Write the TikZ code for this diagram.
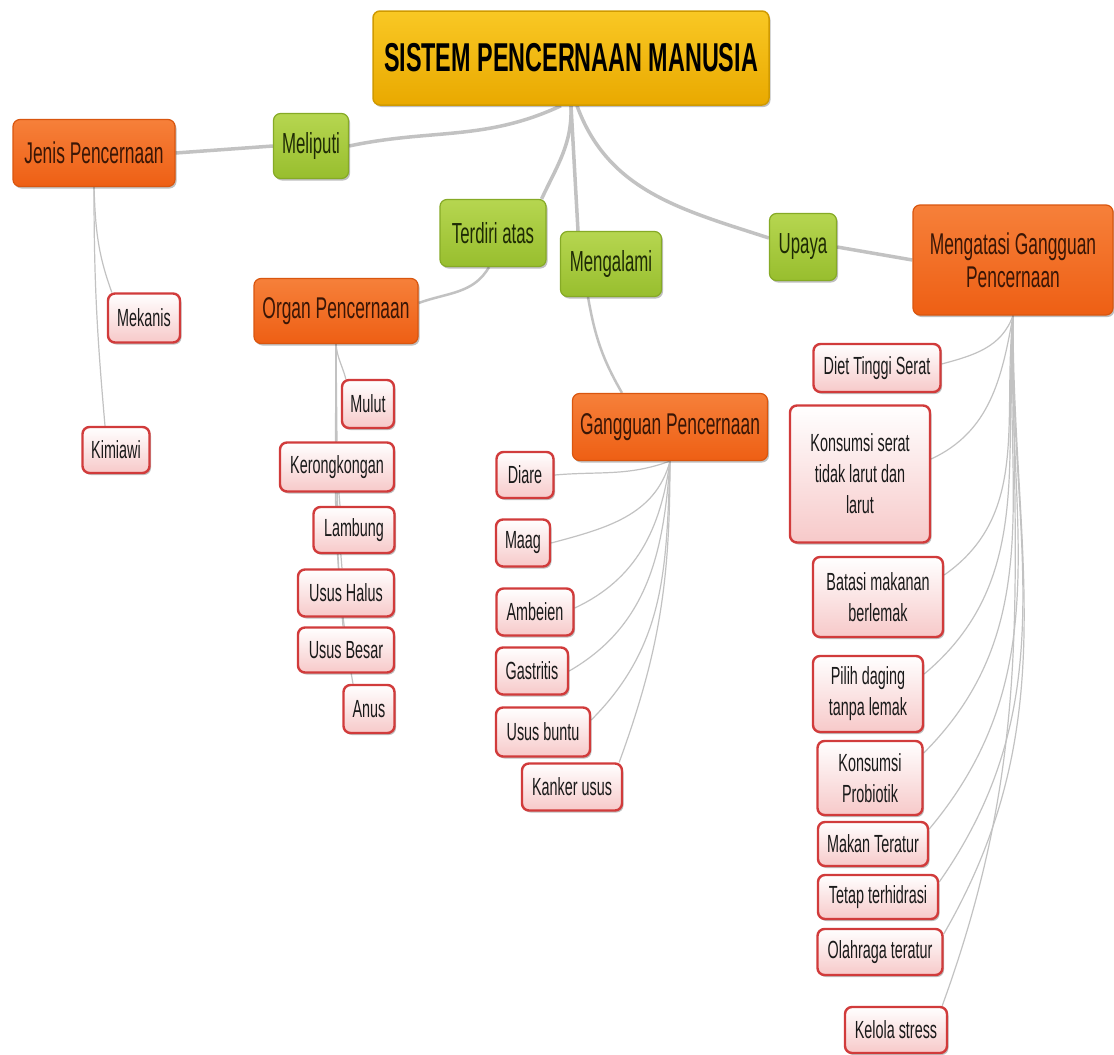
\documentclass[tikz,border=0pt]{standalone}
\usepackage{fontspec}
\setmainfont{Liberation Sans}[FakeStretch=0.58]
\usetikzlibrary{backgrounds,shadows}
\definecolor{rootTop}{HTML}{F9C824}
\definecolor{rootBot}{HTML}{E9A900}
\definecolor{rootLine}{HTML}{D09A00}
\definecolor{topicTop}{HTML}{F6803A}
\definecolor{topicBot}{HTML}{EE5F14}
\definecolor{topicLine}{HTML}{D9560F}
\definecolor{topicText}{HTML}{3A1606}
\definecolor{linkTop}{HTML}{B6D650}
\definecolor{linkBot}{HTML}{98BE2E}
\definecolor{linkLine}{HTML}{86AA26}
\definecolor{linkText}{HTML}{1E2A05}
\definecolor{leafBot}{HTML}{F7C9C9}
\definecolor{leafLine}{HTML}{D13B3B}
\definecolor{leafText}{HTML}{1A1A1A}
\definecolor{wire}{HTML}{C2C2C2}
\tikzset{
  box/.style={rounded corners=7pt, align=center, inner sep=2pt,
    drop shadow={shadow xshift=1.5pt, shadow yshift=-2pt, opacity=.25, fill=black}},
  root/.style={box, draw=rootLine, line width=1.5pt, top color=rootTop, bottom color=rootBot,
    text=black, font=\fontsize{40.3}{45}\selectfont\bfseries},
  topic/.style={box, draw=topicLine, line width=1.2pt, top color=topicTop, bottom color=topicBot,
    text=topicText, font=\fontsize{30}{33}\selectfont},
  link/.style={box, draw=linkLine, line width=1.2pt, top color=linkTop, bottom color=linkBot,
    text=linkText, font=\fontsize{29}{32}\selectfont},
  leaf/.style={box, draw=leafLine, line width=2.4pt, top color=white, bottom color=leafBot,
    text=leafText, font=\fontsize{24.8}{31}\selectfont},
  trunk/.style={draw=wire, line width=3.5pt},
  branch/.style={draw=wire, line width=2.5pt},
  twig/.style={draw=wire, line width=1.2pt},
}
\begin{document}
\begin{tikzpicture}[x=1pt, y=-1pt]
\useasboundingbox (0,0) rectangle (1114,1055);

\node[root, minimum width=396, minimum height=94] (root) at (571,58) {SISTEM PENCERNAAN MANUSIA};

\node[topic, minimum width=162, minimum height=67] (jenis) at (94,153) {Jenis Pencernaan};
\node[topic, minimum width=164, minimum height=65] (organ) at (336,311) {Organ Pencernaan};
\node[topic, minimum width=195, minimum height=67] (gang) at (670,427) {Gangguan Pencernaan};
\node[topic, minimum width=200, minimum height=110] (atasi) at (1013,260) {Mengatasi Gangguan\\Pencernaan};

\node[link, minimum width=75, minimum height=65] (meli) at (311,146) {Meliputi};
\node[link, minimum width=106, minimum height=67] (terdiri) at (493,233) {Terdiri atas};
\node[link, minimum width=101, minimum height=65] (meng) at (611,264) {Mengalami};
\node[link, minimum width=67, minimum height=67] (upaya) at (803,247) {Upaya};

\node[leaf, minimum width=72, minimum height=49] (mekanis) at (144,318) {Mekanis};
\node[leaf, minimum width=67, minimum height=46] (kimia) at (116,450) {Kimiawi};

\node[leaf, minimum width=52, minimum height=48] (mulut) at (368,404) {Mulut};
\node[leaf, minimum width=114, minimum height=49] (kerong) at (337,467) {Kerongkongan};
\node[leaf, minimum width=81, minimum height=46] (lambung) at (354,530) {Lambung};
\node[leaf, minimum width=96, minimum height=47] (halus) at (346,593) {Usus Halus};
\node[leaf, minimum width=96, minimum height=45] (besar) at (346,650) {Usus Besar};
\node[leaf, minimum width=51, minimum height=48] (anus) at (369,709) {Anus};

\node[leaf, minimum width=57, minimum height=46] (diare) at (525,475) {Diare};
\node[leaf, minimum width=54, minimum height=47] (maag) at (523,543) {Maag};
\node[leaf, minimum width=77, minimum height=47] (ambeien) at (535,612) {Ambeien};
\node[leaf, minimum width=72, minimum height=47] (gastritis) at (532,671) {Gastritis};
\node[leaf, minimum width=94, minimum height=49] (buntu) at (543,732) {Usus buntu};
\node[leaf, minimum width=100, minimum height=47] (kanker) at (572,787) {Kanker usus};

\node[leaf, minimum width=127, minimum height=48] (diet) at (877,368) {Diet Tinggi Serat};
\node[leaf, minimum width=140, minimum height=137] (serat) at (860,474) {Konsumsi serat\\tidak larut dan\\larut};
\node[leaf, minimum width=130, minimum height=80] (batasi) at (878,597) {Batasi makanan\\berlemak};
\node[leaf, minimum width=110, minimum height=76] (pilih) at (868,694) {Pilih daging\\tanpa lemak};
\node[leaf, minimum width=105, minimum height=74] (probio) at (870,778) {Konsumsi\\Probiotik};
\node[leaf, minimum width=110, minimum height=44] (makan) at (873,844) {Makan Teratur};
\node[leaf, minimum width=120, minimum height=44] (tetap) at (878,897) {Tetap terhidrasi};
\node[leaf, minimum width=125, minimum height=46] (olah) at (880,952) {Olahraga teratur};
\node[leaf, minimum width=102, minimum height=46] (kelola) at (896,1030) {Kelola stress};

\begin{scope}[on background layer]
\fill[white] (0,0) rectangle (1114,1055);
\draw[trunk] ([xshift=-10pt]root.south) to[out=205, in=12] (meli.east);
\draw[trunk] (root.south) to[out=-88, in=65] ([xshift=-5pt]terdiri.north east);
\draw[trunk] (root.south) -- ([xshift=-33pt]meng.north);
\draw[trunk] ([xshift=6pt]root.south) to[out=-70, in=162] ([yshift=9pt]upaya.west);
\draw[trunk] (upaya.east) -- (atasi.west);
\draw[trunk] (meli.west) -- (jenis.east);
\draw[branch] ([xshift=-4pt]terdiri.south) to[out=-120, in=20] ([yshift=8pt]organ.east);
\draw[branch] ([xshift=-23pt]meng.south) to[out=-80, in=120] ([xshift=-48pt]gang.north);

\draw[twig] (jenis.south) to[out=-88, in=110] ([xshift=5pt]mekanis.north west);
\draw[twig] (jenis.south) to[out=-90, in=95] ([xshift=-11pt]kimia.north);

\draw[twig] (organ.south) to[out=-85, in=105] ([xshift=5pt]mulut.north west);
\draw[twig] (organ.south) -- (kerong.north);
\draw[twig] (organ.south) to[out=-90, in=95] ([xshift=-14pt]lambung.north);
\draw[twig] (organ.south) to[out=-90, in=95] ([xshift=-4pt]halus.north);
\draw[twig] (organ.south) to[out=-90, in=95] ([xshift=-3pt]besar.north);
\draw[twig] (organ.south) to[out=-90, in=100] ([xshift=-16pt]anus.north);

\draw[twig] (gang.south) to[out=200, in=5] (diare.east);
\draw[twig] (gang.south) to[out=-105, in=15] (maag.east);
\draw[twig] (gang.south) to[out=-98, in=25] ([yshift=4pt]ambeien.east);
\draw[twig] (gang.south) to[out=-94, in=30] (gastritis.east);
\draw[twig] (gang.south) to[out=-92, in=45] ([yshift=12pt]buntu.east);
\draw[twig] (gang.south) to[out=-90, in=70] ([xshift=-4pt]kanker.north east);

\draw[twig] (atasi.south) to[out=-110, in=15] ([yshift=4pt]diet.east);
\draw[twig] (atasi.south) to[out=-100, in=25] ([yshift=15pt]serat.east);
\draw[twig] (atasi.south) to[out=-96, in=35] ([yshift=22pt]batasi.east);
\draw[twig] (atasi.south) to[out=-94, in=40] ([yshift=20pt]pilih.east);
\draw[twig] (atasi.south) to[out=-93, in=45] ([yshift=25pt]probio.east);
\draw[twig] (atasi.south) to[out=-92, in=50] ([yshift=15pt]makan.east);
\draw[twig] (atasi.south) to[out=-91, in=55] ([yshift=15pt]tetap.east);
\draw[twig] (atasi.south) to[out=-90, in=60] ([yshift=18pt]olah.east);
\draw[twig] (atasi.south) to[out=-90, in=70] ([xshift=-6pt]kelola.north east);
\end{scope}
\end{tikzpicture}
\end{document}
